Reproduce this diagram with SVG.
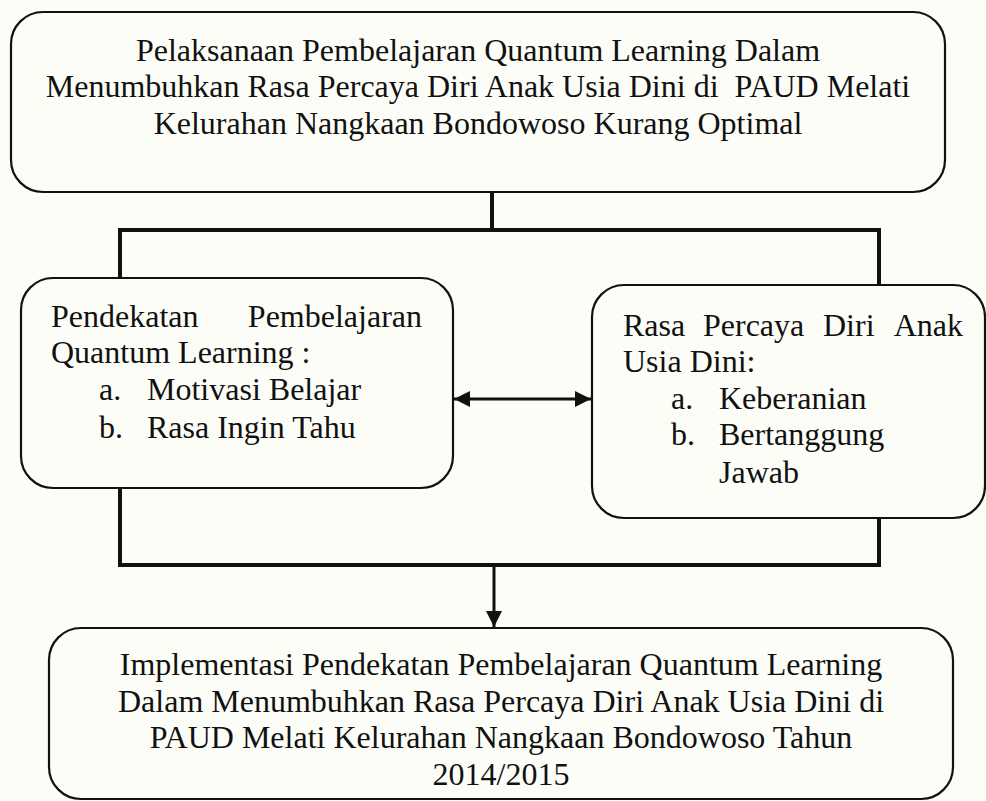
<svg xmlns="http://www.w3.org/2000/svg" width="986" height="801" viewBox="0 0 986 801">
<defs>
<style>
.box{fill:#FDFDF8;stroke:#111;stroke-width:2.2}
.t{font-family:"Liberation Serif","Times New Roman",serif;font-size:32px;fill:#111}
.c{text-anchor:middle}
.conn{fill:none;stroke:#111;stroke-width:4;stroke-linecap:square}
.thin{fill:none;stroke:#111;stroke-width:3}
</style>
<marker id="ah" markerUnits="userSpaceOnUse" markerWidth="16" markerHeight="16" viewBox="0 0 16 16" refX="16" refY="8" orient="auto-start-reverse">
<path d="M0,0 L16,8 L0,16 Z" fill="#111"/>
</marker>
</defs>
<rect width="986" height="801" fill="#FDFDF8"/>
<g id="connectors">
<path class="conn" d="M492,193 V230 M120,230 H879 M120,230 V278 M879,230 V285"/>
<path class="conn" d="M120,488 V565 H879 V518"/>
<line class="thin" x1="494" y1="565" x2="494" y2="627" marker-end="url(#ah)"/>
<line class="thin" x1="454" y1="399" x2="591" y2="399" marker-start="url(#ah)" marker-end="url(#ah)"/>
</g>
<g id="top">
<rect class="box" x="11" y="12" width="934" height="180" rx="32"/>
<text class="t c" x="478" y="61">Pelaksanaan Pembelajaran Quantum Learning Dalam</text>
<text class="t c" x="478" y="97" xml:space="preserve">Menumbuhkan Rasa Percaya Diri Anak Usia Dini di  PAUD Melati</text>
<text class="t c" x="478" y="134">Kelurahan Nangkaan Bondowoso Kurang Optimal</text>
</g>
<g id="left">
<rect class="box" x="21" y="278" width="432" height="210" rx="32"/>
<text class="t" x="51" y="327">Pendekatan</text>
<text class="t" x="422" y="327" text-anchor="end">Pembelajaran</text>
<text class="t" x="51" y="363">Quantum Learning :</text>
<text class="t" x="99" y="400">a.</text>
<text class="t" x="147" y="400">Motivasi Belajar</text>
<text class="t" x="99" y="438">b.</text>
<text class="t" x="147" y="438">Rasa Ingin Tahu</text>
</g>
<g id="right">
<rect class="box" x="592" y="285" width="393" height="233" rx="32"/>
<text class="t" x="623" y="336">Rasa</text>
<text class="t" x="703" y="336">Percaya</text>
<text class="t" x="823" y="336">Diri</text>
<text class="t" x="963" y="336" text-anchor="end">Anak</text>
<text class="t" x="623" y="372">Usia Dini:</text>
<text class="t" x="671" y="409">a.</text>
<text class="t" x="719" y="409">Keberanian</text>
<text class="t" x="671" y="445">b.</text>
<text class="t" x="719" y="445">Bertanggung</text>
<text class="t" x="719" y="483">Jawab</text>
</g>
<g id="bottom">
<rect class="box" x="49" y="628" width="904" height="171" rx="32"/>
<text class="t c" x="501" y="675">Implementasi Pendekatan Pembelajaran Quantum Learning</text>
<text class="t c" x="501" y="712">Dalam Menumbuhkan Rasa Percaya Diri Anak Usia Dini di</text>
<text class="t c" x="501" y="748">PAUD Melati Kelurahan Nangkaan Bondowoso Tahun</text>
<text class="t c" x="501" y="785">2014/2015</text>
</g>
</svg>
